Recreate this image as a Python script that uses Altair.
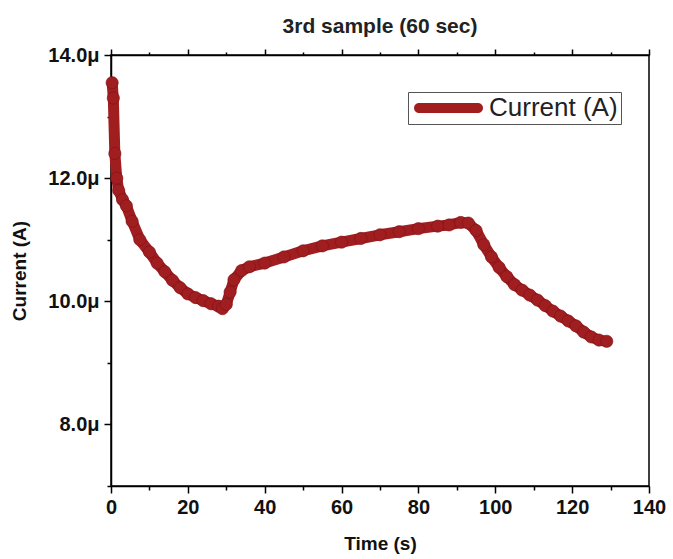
import altair as alt
import pandas as pd

time_s = [0.3, 0.6, 1.0, 1.5, 2.0, 3.0, 4.0, 5.5, 7.5, 10, 12, 14, 16, 18, 20, 22, 24, 26, 28, 29,
          30, 31, 32, 34, 36, 40, 45, 50, 55, 60, 65, 70, 75, 80, 85, 88, 91, 93, 95, 97, 99,
          101, 103, 105, 107, 109, 111, 113, 115, 117, 119, 121, 123, 125, 127, 129]
current_uA = [13.55, 13.3, 12.4, 12.0, 11.8, 11.65, 11.55, 11.3, 11.0, 10.8, 10.62, 10.48, 10.34,
              10.22, 10.12, 10.06, 10.01, 9.96, 9.92, 9.88, 9.95, 10.15, 10.35, 10.5, 10.56, 10.62,
              10.72, 10.82, 10.9, 10.96, 11.02, 11.08, 11.13, 11.18, 11.22, 11.24, 11.28, 11.27,
              11.15, 10.92, 10.72, 10.55, 10.4, 10.27, 10.18, 10.1, 10.02, 9.93, 9.84, 9.76, 9.68,
              9.6, 9.5, 9.42, 9.37, 9.35]
series_name = "Current (A)"

df = pd.DataFrame({"t": time_s, "I": current_uA, "series": series_name})

FONT = "Liberation Sans"
RED = "#a01d20"

x_major_test = "datum.value % 20 == 0"
y_major_test = "datum.value % 2 == 0"

x_scale = alt.Scale(domain=[0, 140], nice=False, zero=False)
y_scale = alt.Scale(domain=[7, 14], nice=False, zero=False)

x_bottom = alt.X(
    "t:Q", scale=x_scale, title="Time (s)",
    axis=alt.Axis(
        values=list(range(0, 141, 10)), grid=False, domain=True,
        domainColor="black", domainWidth=1.5, tickColor="black", tickWidth=1.5,
        tickSize={"condition": {"test": x_major_test, "value": 7}, "value": 4},
        labelExpr=f"{x_major_test} ? format(datum.value, 'd') : ''",
        labelFont=FONT, labelFontSize=20, labelFontWeight="bold", labelColor="#111111",
        labelPadding=4, titleFont=FONT, titleFontSize=19, titleFontWeight="bold",
        titleColor="#111111", titlePadding=17, labelFlush=False,
    ),
)

x_top = alt.X(
    "t:Q", scale=x_scale, title=" ",
    axis=alt.Axis(
        values=list(range(0, 141, 10)), labelExpr="''", grid=False, domain=True,
        domainColor="black", domainWidth=1.5, tickColor="black", tickWidth=1.5,
        tickSize={"condition": {"test": x_major_test, "value": 6}, "value": 3},
    ),
)

y_left = alt.Y(
    "I:Q", scale=y_scale, title="Current (A)",
    axis=alt.Axis(
        values=list(range(7, 15)), grid=False, domain=True, domainColor="black",
        domainWidth=1.5, tickColor="black", tickWidth=1.5,
        tickSize={"condition": {"test": y_major_test, "value": 7}, "value": 4},
        labelExpr=f"{y_major_test} ? format(datum.value, '.1f') + 'μ' : ''",
        labelFont=FONT, labelFontSize=20, labelFontWeight="bold", labelColor="#111111",
        labelPadding=5, titleFont=FONT, titleFontSize=19, titleFontWeight="bold",
        titleColor="#111111", titlePadding=18, labelFlush=False,
    ),
)

legend_shape = "M-0.5,-0.5H5.4A0.5,0.5,0,0,1,5.4,0.5H-0.5A0.5,0.5,0,0,1,-0.5,-0.5Z"

line = alt.Chart(df).mark_line(strokeWidth=11, strokeCap="round", strokeJoin="round").encode(
    x=x_bottom,
    y=y_left,
    color=alt.Color(
        "series:N", scale=alt.Scale(range=[RED]),
        legend=alt.Legend(
            title=None, orient="none", legendX=297, legendY=37, symbolType=legend_shape,
            symbolSize=400, symbolFillColor=RED, symbolStrokeColor=RED, symbolStrokeWidth=0,
            symbolOpacity=1, labelFont=FONT, labelFontSize=26, labelOffset=52,
            labelColor="#222222", strokeColor="#555555", padding=3,
        ),
    ),
)

points = alt.Chart(df).mark_circle(size=150, opacity=1, color=RED, stroke="#7e1215", strokeWidth=0.6).encode(
    x=x_top,
    y=alt.Y("I:Q", scale=y_scale),
)

chart = (
    alt.layer(line, points)
    .resolve_axis(x="independent")
    .properties(
        width=538, height=431,
        title=alt.TitleParams("3rd sample (60 sec)", font=FONT, fontSize=21, fontWeight="bold",
                              color="#222222", anchor="middle", offset=9, dy=24),
        padding={"left": 111, "top": 55, "right": 24, "bottom": 73},
        autosize=alt.AutoSizeParams(type="none"),
        background="white",
    )
    .configure_view(stroke="black", strokeWidth=1.5)
)

chart.save("out.html", embed_options={"renderer": "svg", "actions": False})
